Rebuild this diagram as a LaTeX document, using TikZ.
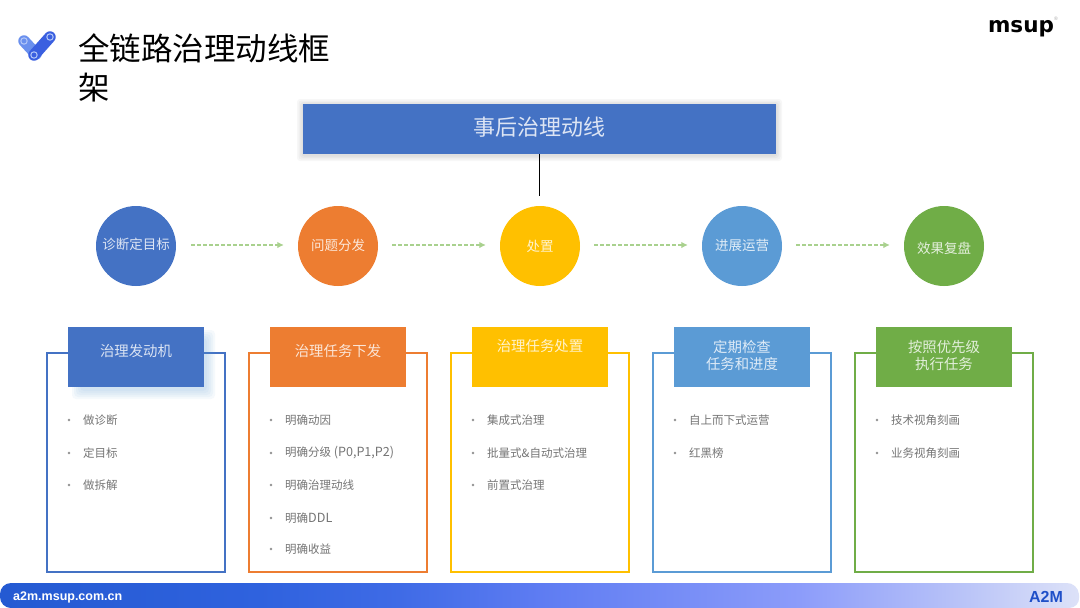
\documentclass[tikz,border=0pt]{standalone}
\usepackage{fontspec}
\setmainfont{Noto Sans CJK SC}
\newfontfamily\latinfont{Liberation Sans}
\newfontfamily\logofont{DejaVu Sans}
\usetikzlibrary{arrows.meta,fit,calc}
\definecolor{cblue}{HTML}{4472C4}
\definecolor{corange}{HTML}{ED7D31}
\definecolor{cyellow}{HTML}{FFC000}
\definecolor{csky}{HTML}{5B9BD5}
\definecolor{cgreen}{HTML}{70AD47}
\definecolor{flowgreen}{HTML}{A9D18E}
\definecolor{itemgray}{HTML}{757575}
\definecolor{iconlight}{HTML}{6A90EE}
\definecolor{icondark}{HTML}{3A5FE0}
\definecolor{iconring}{HTML}{B4C8F8}
\definecolor{fa}{HTML}{245AD2}
\definecolor{fb}{HTML}{2F62DE}
\definecolor{fc}{HTML}{3F6BE6}
\definecolor{fd}{HTML}{5E7CF2}
\definecolor{fe}{HTML}{8C9CFA}
\definecolor{ff}{HTML}{BCC6F8}
\definecolor{fg}{HTML}{DDE2F8}
\definecolor{logoblue}{HTML}{1F4FC8}
\pgfdeclarehorizontalshading{footgrad}{100bp}{
  color(0bp)=(fa);
  color(25bp)=(fa);
  color(37bp)=(fb);
  color(43.5bp)=(fc);
  color(50bp)=(fd);
  color(62bp)=(fe);
  color(70bp)=(ff);
  color(75bp)=(fg);
  color(100bp)=(fg)}
\tikzset{
  x=1pt,y=-1pt,
  stage/.style={circle,fill=#1,draw=none,minimum size=80pt,inner sep=0pt},
  stagetext/.style={inner sep=0pt,text=white!82!#1,font=\fontsize{13.5}{15}\selectfont},
  head/.style={rectangle,fill=#1,draw=none,minimum width=136pt,minimum height=60pt,inner sep=0pt},
  headtext/.style={inner sep=0pt,align=center,text=white!80!#1,font=\fontsize{14.4}{17}\selectfont},
  card/.style={rectangle,draw=#1,line width=2.8pt,fill=white,minimum width=178pt,minimum height=219pt,inner sep=0pt},
  flow/.style={draw=flowgreen,line width=1.1pt,dash pattern=on 3.4pt off 2.6pt,-{Latex[length=6.5pt,width=6.5pt,fill=flowgreen]}},
  item/.style={anchor=west,inner sep=0pt,text=itemgray,font=\fontsize{11.5}{13}\selectfont},
  dotb/.style={circle,fill=itemgray!80,minimum size=2.6pt,inner sep=0pt},
}
\newcommand{\latinbig}[1]{{\fontsize{12.6}{13}\selectfont #1}}
\begin{document}
\begin{tikzpicture}
\useasboundingbox (0,0) rectangle (1080,608);
\fill[white] (0,0) rectangle (1080,608);
% logo icon
\draw[line width=11.5pt,line cap=round,color=iconlight] (24,41) -- (36,54);
\draw[line width=11.5pt,line cap=round,color=icondark] (34,55) -- (50,37);
\draw[iconring,line width=1pt] (24,41) circle (3.2);
\draw[iconring,line width=1pt] (50,37) circle (3.2);
\draw[iconring,line width=1pt] (34,55) circle (3.2);
\node[anchor=north west,inner sep=0pt,align=left,text=black,font=\fontsize{31.5}{39}\selectfont] (title) at (78,33) {全链路治理动线框\\架};
\node[inner sep=0pt,text=black,font=\fontsize{21.5}{22}\selectfont] (msup) at (1021,29) {\logofont\bfseries msup};
\node[inner sep=0pt,text=gray!70,font=\fontsize{5}{5}\selectfont] (reg) at (1056,19) {\latinfont ®};
% top box
\foreach \i in {6,4.5,3,1.5}
  \fill[black,opacity=0.03,rounded corners=3pt] (303-\i,104-\i+1) rectangle (776+\i,154+\i+1);
\node[rectangle,fill=cblue,minimum width=473pt,minimum height=50pt,inner sep=0pt] (top) at (539.5,129) {};
\node[inner sep=0pt,text=white!82!cblue,font=\fontsize{22}{24}\selectfont] (toptext) at (539.5,127) {事后治理动线};
% stages
\node[stage=cblue] (s1) at (136,246) {};
\node[stage=corange] (s2) at (338,246) {};
\node[stage=cyellow] (s3) at (540,246) {};
\node[stage=csky] (s4) at (742,246) {};
\node[stage=cgreen] (s5) at (944,246) {};
\node[stagetext=cblue] (s1t) at (136,244) {诊断定目标};
\node[stagetext=corange] (s2t) at (338,245) {问题分发};
\node[stagetext=cyellow] (s3t) at (540,246) {处置};
\node[stagetext=csky] (s4t) at (742,245) {进展运营};
\node[stagetext=cgreen] (s5t) at (944,248) {效果复盘};
\coordinate (lineend) at (539.5,196);
\draw[black,line width=1pt] (top.south) -- (lineend);
\draw[flow] ([xshift=15pt,yshift=1pt]s1.east) -- ([xshift=-14pt,yshift=1pt]s2.west);
\draw[flow] ([xshift=14pt,yshift=1pt]s2.east) -- ([xshift=-14pt,yshift=1pt]s3.west);
\draw[flow] ([xshift=14pt,yshift=1pt]s3.east) -- ([xshift=-14pt,yshift=1pt]s4.west);
\draw[flow] ([xshift=14pt,yshift=1pt]s4.east) -- ([xshift=-14pt,yshift=1pt]s5.west);
% cards
\node[card=cblue] (c1) at (136,462.5) {};
\node[card=corange] (c2) at (338,462.5) {};
\node[card=cyellow] (c3) at (540,462.5) {};
\node[card=csky] (c4) at (742,462.5) {};
\node[card=cgreen] (c5) at (944,462.5) {};
% glow under first header
\foreach \i in {10,8,6,4,2}
  \fill[csky,opacity=0.06,rounded corners=4pt] (82-\i,340-\i) rectangle (205+\i,389+\i);
% headers
\node[head=cblue] (h1) at (136,357) {};
\node[headtext=cblue] (h1t) at (136,351) {治理发动机};
\node[head=corange] (h2) at (338,357) {};
\node[headtext=corange] (h2t) at (338,351) {治理任务下发};
\node[head=cyellow] (h3) at (540,357) {};
\node[headtext=cyellow] (h3t) at (540,346) {治理任务处置};
\node[head=csky] (h4) at (742,357) {};
\node[headtext=csky] (h4t) at (742,355.5) {定期检查\\任务和进度};
\node[head=cgreen] (h5) at (944,357) {};
\node[headtext=cgreen] (h5t) at (944,355.5) {按照优先级\\执行任务};
% items
\foreach \n/\bx/\y/\t in {
 a1/69/420/做诊断, a2/69/453/定目标, a3/69/485/做拆解,
 b1/271/420/明确动因, b2/271/453/{明确分级 \latinbig{(P0,P1,P2)}}, b3/271/485/明确治理动线, b4/271/518/{明确\latinbig{DDL}}, b5/271/549/明确收益,
 d1/473/420/集成式治理, d2/473/453/批量式\&自动式治理, d3/473/485/前置式治理,
 e1/675/420/自上而下式运营, e2/675/453/红黑榜,
 f1/877/420/技术视角刻画, f2/877/453/业务视角刻画}{
  \node[dotb] (p\n) at (\bx,\y) {};
  \node[item] (t\n) at (\bx+14,\y) {\t};
}
% footer
\shade[shading=footgrad,rounded corners=11pt] (0,608) -- (0,583) -- (1078,583) -- (1080,608) -- cycle;
\node[anchor=west,inner sep=0pt,text=white,font=\fontsize{12.5}{13}\selectfont] (url) at (13,597) {\latinfont\bfseries a2m.msup.com.cn};
\node[inner sep=0pt,text=logoblue,font=\fontsize{16}{16}\selectfont] (a2m) at (1046,597) {\latinfont\bfseries A2M};
\end{tikzpicture}
\end{document}
